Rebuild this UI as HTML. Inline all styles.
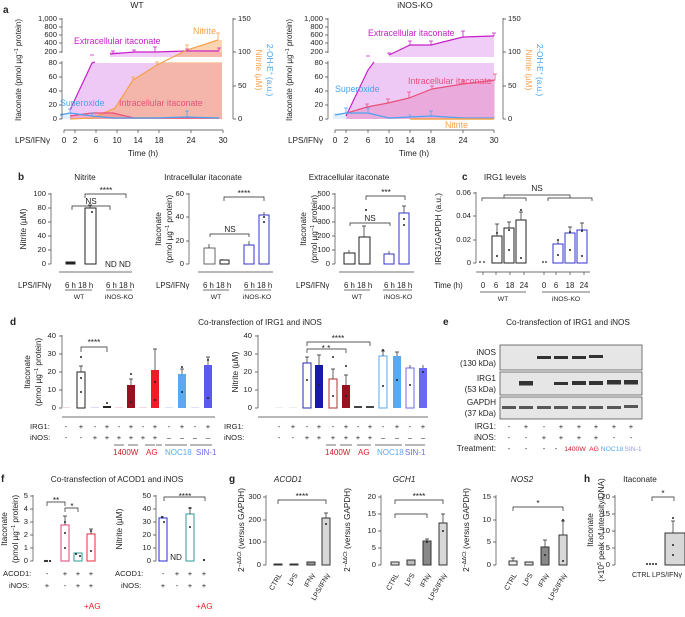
<!DOCTYPE html>
<html><head><meta charset="utf-8"><style>
html,body{margin:0;padding:0;background:#fff}
svg{display:block;font-family:"Liberation Sans",Arial,sans-serif}
</style></head><body>
<svg width="685" height="617" viewBox="0 0 685 617" xmlns="http://www.w3.org/2000/svg" font-size="8.2" fill="#222">
<!-- ================= PANEL A WT ================= -->
<text x="3" y="13" font-size="10" font-weight="bold">a</text>
<text x="137" y="8" text-anchor="middle" font-size="8.5">WT</text>
<polygon points="70,112 92,63 222,63 222,119 70,119" fill="rgba(205,90,225,0.33)"/>
<rect x="110" y="52" width="112" height="5" fill="rgba(205,90,225,0.3)"/>
<polygon points="70,119 92,118 115,108 133,80 157,65 187,50 218,40 222,40 222,119" fill="rgba(250,160,80,0.45)"/>
<polygon points="70,116 92,113 113,113 134,118 222,118 222,119 70,119" fill="rgba(240,80,110,0.25)"/>
<rect x="60" y="113" width="12" height="6" fill="rgba(120,180,250,0.2)"/>
<rect x="63" y="57" width="168" height="5" fill="#fff"/>
<polyline points="70,110 92,63 95,62" fill="none" stroke="#c81ec8" stroke-width="1.2"/>
<polyline points="110,54 135,52 155,52 187,51 219,51" fill="none" stroke="#c81ec8" stroke-width="1.2"/>
<polyline points="70,119 92,118 115,108 133,80 157,65 187,50 218,40" fill="none" stroke="#f5a04a" stroke-width="1.2"/>
<polyline points="70,116 92,113 113,113 134,118 155,118 187,118 219,118" fill="none" stroke="#e8507a" stroke-width="1.2"/>
<polyline points="60,115 70,113 92,116 113,118 134,118 155,118 187,117 219,118" fill="none" stroke="#4aa3f0" stroke-width="1.2"/>
<g stroke="#c81ec8" stroke-width="0.8"><path d="M90,55h4M113,51v3M111,51h4M134,50v2M132,50h4M155,47v5M153,47h4M187,49v2M185,49h4M219,48v3M217,48h4"/></g>
<g stroke="#f5a04a" stroke-width="0.8"><path d="M133,77v3M131,77h4M157,62v3M155,62h4M187,45v5M185,45h4M218,33v7M216,33h4"/></g>
<g stroke="#4aa3f0" stroke-width="0.8"><path d="M70,109v4M68,109h4M92,113v3M90,113h4M187,111v6M185,111h4"/></g>
<g stroke="#444" stroke-width="0.7" fill="none"><path d="M62,18V53M62,61V119M59,19h3M59,27h3M59,35h3M59,43h3M59,52h3M59,63h3M59,77h3M59,91h3M59,105h3M59,119h3"/>
<path d="M64,130H223M64,130v3M75,130v3M96,130v3M117,130v3M138,130v3M159,130v3M191,130v3M223,130v3"/>
<path d="M233,18V119M233,19h3M233,52h3M233,86h3M233,119h3"/></g>
<g text-anchor="end" font-size="7.6"><text x="57" y="21">1,000</text><text x="57" y="29">800</text><text x="57" y="37">600</text><text x="57" y="45">400</text><text x="57" y="54">200</text><text x="57" y="65">80</text><text x="57" y="79">60</text><text x="57" y="93">40</text><text x="57" y="107">20</text><text x="57" y="121">0</text></g>
<g font-size="7.6"><text x="238" y="21">150</text><text x="238" y="54">100</text><text x="238" y="88">50</text><text x="238" y="121">0</text></g>
<text transform="translate(21,70) rotate(-90)" text-anchor="middle" font-size="8">Itaconate (pmol µg<tspan dy="-3" font-size="5.5">−1</tspan><tspan dy="3"> protein)</tspan></text>
<text transform="translate(256,70) rotate(90)" text-anchor="middle" fill="#f5a04a" font-size="8.2">Nitrite (µM)</text>
<text transform="translate(267,70) rotate(90)" text-anchor="middle" fill="#4aa3f0" font-size="8.2">2-OH-E<tspan dy="-3" font-size="5.5">+</tspan><tspan dy="3"> (a.u.)</tspan></text>
<g text-anchor="middle" font-size="8.2"><text x="64" y="143">0</text><text x="75" y="143">2</text><text x="96" y="143">6</text><text x="117" y="143">10</text><text x="138" y="143">14</text><text x="159" y="143">18</text><text x="191" y="143">24</text><text x="223" y="143">30</text><text x="143" y="156">Time (h)</text></g>
<text x="15" y="143" font-size="8.2">LPS/IFNγ</text>
<text x="74" y="44" fill="#c81ec8" font-size="8.8">Extracellular itaconate</text>
<text x="193" y="34" fill="#f5a04a" font-size="8.8">Nitrite</text>
<text x="60" y="106" fill="#4aa3f0" font-size="8.8">Superoxide</text>
<text x="119" y="106" fill="#e8507a" font-size="8.8">Intracellular itaconate</text>

<!-- ================= PANEL A iNOS-KO ================= -->
<text x="415" y="8" text-anchor="middle" font-size="8.5">iNOS-KO</text>
<polygon points="346,116 368,70 374,63 494,63 494,119 346,119" fill="rgba(205,90,225,0.33)"/>
<polygon points="389,57 389,55 410,45 431,45 463,37 494,36 494,57" fill="rgba(205,90,225,0.3)"/>
<polygon points="347,113 367,107 388,103 409,98 432,89 463,84 495,80 495,119 347,119" fill="rgba(225,60,130,0.22)"/>
<rect x="333" y="113" width="14" height="6" fill="rgba(120,180,250,0.2)"/>
<polyline points="346,116 368,70 374,62" fill="none" stroke="#c81ec8" stroke-width="1.2"/>
<polyline points="389,55 410,45 431,45 463,37 494,36" fill="none" stroke="#c81ec8" stroke-width="1.2"/>
<polyline points="347,113 367,107 388,103 409,98 432,89 463,84 495,80" fill="none" stroke="#e8507a" stroke-width="1.2"/>
<polyline points="335,115 346,113 368,113 389,118 410,117 431,116 463,118 494,118" fill="none" stroke="#4aa3f0" stroke-width="1.2"/>
<line x1="410" y1="119" x2="494" y2="119" stroke="#f5a04a" stroke-width="1.5"/>
<g stroke="#c81ec8" stroke-width="0.8"><path d="M366,56h4M389,53v2M387,53h4M410,41v4M408,41h4M431,41v4M429,41h4M463,31v6M461,31h4M494,33v3M492,33h4"/></g>
<g stroke="#e8507a" stroke-width="0.8"><path d="M367,104v3M365,104h4M388,99v4M386,99h4M409,92v6M407,92h4M432,86v3M430,86h4M463,80v4M461,80h4M495,74v6M493,74h4"/></g>
<g stroke="#4aa3f0" stroke-width="0.8"><path d="M346,108v5M344,108h4M368,108v5M366,108h4M410,114v3M431,111v5M429,111h4"/></g>
<g stroke="#444" stroke-width="0.7" fill="none"><path d="M328,18V53M328,61V119M325,19h3M325,27h3M325,35h3M325,43h3M325,52h3M325,63h3M325,77h3M325,91h3M325,105h3M325,119h3"/>
<path d="M335,130H494M335,130v3M346,130v3M368,130v3M389,130v3M410,130v3M431,130v3M463,130v3M494,130v3"/>
<path d="M503,18V119M503,19h3M503,52h3M503,86h3M503,119h3"/></g>
<g text-anchor="end" font-size="7.6"><text x="323" y="21">1,000</text><text x="323" y="29">800</text><text x="323" y="37">600</text><text x="323" y="45">400</text><text x="323" y="54">200</text><text x="323" y="65">80</text><text x="323" y="79">60</text><text x="323" y="93">40</text><text x="323" y="107">20</text><text x="323" y="121">0</text></g>
<g font-size="7.6"><text x="508" y="21">150</text><text x="508" y="54">100</text><text x="508" y="88">50</text><text x="508" y="121">0</text></g>
<text transform="translate(292,70) rotate(-90)" text-anchor="middle" font-size="8">Itaconate (pmol µg<tspan dy="-3" font-size="5.5">−1</tspan><tspan dy="3"> protein)</tspan></text>
<text transform="translate(526,70) rotate(90)" text-anchor="middle" fill="#f5a04a" font-size="8.2">Nitrite (µM)</text>
<text transform="translate(537,70) rotate(90)" text-anchor="middle" fill="#4aa3f0" font-size="8.2">2-OH-E<tspan dy="-3" font-size="5.5">+</tspan><tspan dy="3"> (a.u.)</tspan></text>
<g text-anchor="middle" font-size="8.2"><text x="335" y="143">0</text><text x="346" y="143">2</text><text x="368" y="143">6</text><text x="389" y="143">10</text><text x="410" y="143">14</text><text x="431" y="143">18</text><text x="463" y="143">24</text><text x="494" y="143">30</text><text x="414" y="156">Time (h)</text></g>
<text x="288" y="143" font-size="8.2">LPS/IFNγ</text>
<text x="368" y="36" fill="#c81ec8" font-size="8.8">Extracellular itaconate</text>
<text x="408" y="84" fill="#e8507a" font-size="8.8">Intracellular itaconate</text>
<text x="335" y="92" fill="#4aa3f0" font-size="8.8">Superoxide</text>
<text x="445" y="128" fill="#f5a04a" font-size="8.8">Nitrite</text>

<!-- ================= PANEL B ================= -->
<text x="18" y="180" font-size="10" font-weight="bold">b</text>
<text x="85" y="180" text-anchor="middle">Nitrite</text>
<text x="203" y="180" text-anchor="middle">Intracellular itaconate</text>
<text x="349" y="180" text-anchor="middle">Extracellular itaconate</text>
<g stroke="#444" stroke-width="0.7" fill="none">
<path d="M51,193V264M48,194h3M48,208h3M48,222h3M48,236h3M48,250h3M48,264h3"/>
<path d="M189,193V264M186,194h3M186,217h3M186,241h3M186,264h3"/>
<path d="M335,193V264M332,194h3M332,208h3M332,222h3M332,236h3M332,250h3M332,264h3"/>
<path d="M476,192V263M473,193h3M473,216h3M473,240h3M473,263h3"/>
</g>
<g text-anchor="end" font-size="7.6"><text x="46" y="196">100</text><text x="46" y="210">80</text><text x="46" y="224">60</text><text x="46" y="238">40</text><text x="46" y="252">20</text><text x="46" y="266">0</text>
<text x="184" y="196">60</text><text x="184" y="219">40</text><text x="184" y="243">20</text><text x="184" y="266">0</text>
<text x="330" y="196">500</text><text x="330" y="210">400</text><text x="330" y="224">300</text><text x="330" y="238">200</text><text x="330" y="252">100</text><text x="330" y="266">0</text>
<text x="471" y="195">0.06</text><text x="471" y="218">0.04</text><text x="471" y="242">0.02</text><text x="471" y="265">0</text></g>
<text transform="translate(26,229) rotate(-90)" text-anchor="middle">Nitrite (µM)</text>
<text transform="translate(161,229) rotate(-90)" text-anchor="middle">Itaconate</text>
<text transform="translate(172,229) rotate(-90)" text-anchor="middle">(pmol µg<tspan dy="-3" font-size="5.5">−1</tspan><tspan dy="3"> protein)</tspan></text>
<text transform="translate(306,229) rotate(-90)" text-anchor="middle">Itaconate</text>
<text transform="translate(317,229) rotate(-90)" text-anchor="middle">(pmol µg<tspan dy="-3" font-size="5.5">−1</tspan><tspan dy="3"> protein)</tspan></text>
<text transform="translate(441,229) rotate(-90)" text-anchor="middle">IRG1/GAPDH (a.u.)</text>
<g stroke-width="1" fill="#fff">
<rect x="66" y="262" width="9" height="2" fill="#222" stroke="#222"/>
<rect x="85" y="208" width="11" height="56" stroke="#222"/>
<rect x="204" y="248" width="11" height="16" stroke="#666"/>
<rect x="220" y="260" width="9" height="4" stroke="#222"/>
<rect x="244" y="245" width="10" height="19" stroke="#3333cc"/>
<rect x="259" y="215" width="10" height="49" stroke="#3333cc"/>
<rect x="344" y="253" width="11" height="11" stroke="#222"/>
<rect x="359" y="237" width="11" height="27" stroke="#222"/>
<rect x="384" y="254" width="10" height="10" stroke="#3333cc"/>
<rect x="399" y="213" width="10" height="51" stroke="#3333cc"/>
<rect x="492" y="236" width="10" height="27" stroke="#222"/>
<rect x="504" y="228" width="10" height="35" stroke="#222"/>
<rect x="516" y="220" width="10" height="43" stroke="#222"/>
<rect x="553" y="244" width="10" height="19" stroke="#3333cc"/>
<rect x="565" y="233" width="10" height="30" stroke="#3333cc"/>
<rect x="577" y="230" width="10" height="33" stroke="#3333cc"/>
</g>
<g stroke="#222" stroke-width="0.7" fill="none"><path d="M90,208v-3M88,205h4M209,248v-4M222,260v-1M249,245v-4M264,215v-3M349,253v-3M364,237v-11M362,226h4M389,254v-3M404,213v-7M402,206h4M497,236v-12M495,224h4M509,228v-6M507,222h4M521,220v-8M519,212h4M558,244v-4M570,233v-6M568,227h4M582,230v-7M580,223h4"/>
<path d="M72,210v-4H110v4M85,198v-4H126v4M210,237v-3H249v3M224,201v-4H264v4M350,226v-3H390v3M366,200v-4H405v4M482,201v-3H526v3M548,201v-3H592v3M504,198v-3H570v3"/></g>
<g text-anchor="middle"><text x="91" y="204">NS</text><text x="106" y="193">****</text><text x="230" y="232">NS</text><text x="244" y="196">****</text><text x="370" y="221">NS</text><text x="386" y="195">***</text><text x="537" y="191">NS</text></g>
<g><text x="105" y="267">ND</text><text x="119" y="267">ND</text></g>
<g fill="#222"><circle cx="480" cy="262" r="0.9"/><circle cx="484" cy="262" r="0.9"/><circle cx="543" cy="262" r="0.9"/><circle cx="546" cy="262" r="0.9"/><circle cx="497" cy="233" r="1"/><circle cx="497" cy="256" r="1"/><circle cx="509" cy="230" r="1"/><circle cx="509" cy="250" r="1"/><circle cx="521" cy="210" r="1"/><circle cx="521" cy="258" r="1"/><circle cx="558" cy="240" r="1"/><circle cx="558" cy="255" r="1"/><circle cx="570" cy="232" r="1"/><circle cx="570" cy="250" r="1"/><circle cx="582" cy="231" r="1"/><circle cx="582" cy="256" r="1"/><circle cx="366" cy="210" r="1"/><circle cx="404" cy="219" r="1"/><circle cx="404" cy="225" r="1"/><circle cx="264" cy="217" r="1"/><circle cx="264" cy="222" r="1"/><circle cx="92" cy="212" r="1"/></g>
<g stroke="#444" stroke-width="0.7" fill="none"><path d="M59,272H132M198,272H273M339,272H414M476,272H590M483,272v3M496,272v3M510,272v3M524,272v3M544,272v3M556,272v3M570,272v3M584,272v3M65,290H92M106,290H132M203,290H229M244,290H271M344,290H370M383,290H412M480,292H526M542,292H590"/></g>
<g font-size="7.8"><text x="18" y="288">LPS/IFNγ</text><text x="156" y="288">LPS/IFNγ</text><text x="296" y="288">LPS/IFNγ</text><text x="434" y="288">Time (h)</text>
<text x="65" y="288">6 h 18 h</text><text x="106" y="288">6 h 18 h</text><text x="203" y="288">6 h 18 h</text><text x="244" y="288">6 h 18 h</text><text x="344" y="288">6 h 18 h</text><text x="384" y="288">6 h 18 h</text></g>
<g font-size="6.8" text-anchor="middle"><text x="79" y="299">WT</text><text x="119" y="299">iNOS-KO</text><text x="216" y="299">WT</text><text x="257" y="299">iNOS-KO</text><text x="357" y="299">WT</text><text x="398" y="299">iNOS-KO</text><text x="503" y="301">WT</text><text x="566" y="301">iNOS-KO</text></g>
<g font-size="7.8" text-anchor="middle"><text x="483" y="288">0</text><text x="496" y="288">6</text><text x="510" y="288">18</text><text x="524" y="288">24</text><text x="544" y="288">0</text><text x="556" y="288">6</text><text x="570" y="288">18</text><text x="584" y="288">24</text></g>
<text x="462" y="180" font-size="10" font-weight="bold">c</text>
<text x="505" y="180" text-anchor="middle">IRG1 levels</text>

<!-- ================= PANEL D ================= -->
<text x="10" y="325" font-size="10" font-weight="bold">d</text>
<text x="260" y="325" text-anchor="middle">Co-transfection of IRG1 and iNOS</text>
<g stroke="#444" stroke-width="0.7" fill="none"><path d="M62,335V408M59,336h3M59,354h3M59,372h3M59,390h3M59,408h3M258,335V408M255,336h3M255,354h3M255,372h3M255,390h3M255,408h3M62,417H215M258,417H428"/>
<path d="M114,445h10M128,445h10M145,445h10M156,445h6M165,445h22M190,445h22M326,445h10M340,445h12M357,445h14M375,445h16M380,445h22M405,445h20"/></g>
<g text-anchor="end" font-size="7.6"><text x="56" y="338">40</text><text x="56" y="356">30</text><text x="56" y="374">20</text><text x="56" y="392">10</text><text x="56" y="410">0</text><text x="252" y="338">40</text><text x="252" y="356">30</text><text x="252" y="374">20</text><text x="252" y="392">10</text><text x="252" y="410">0</text></g>
<text transform="translate(30,372) rotate(-90)" text-anchor="middle">Itaconate</text>
<text transform="translate(41,372) rotate(-90)" text-anchor="middle">(pmol µg<tspan dy="-3" font-size="5.5">−1</tspan><tspan dy="3"> protein)</tspan></text>
<text transform="translate(238,372) rotate(-90)" text-anchor="middle">Nitrite (µM)</text>
<g stroke-width="1">
<rect x="62" y="407" width="8" height="1" fill="#f0d8e8"/><rect x="77" y="372" width="8" height="36" fill="#fff" stroke="#222"/>
<rect x="91" y="407" width="8" height="1" fill="#e0d8f8"/><rect x="103" y="406" width="8" height="2" fill="#222"/>
<rect x="115" y="407" width="8" height="1" fill="#f8d8d8"/><rect x="127" y="385" width="8" height="23" fill="#9b1020"/>
<rect x="139" y="407" width="8" height="1" fill="#f8d8d8"/><rect x="151" y="370" width="8" height="38" fill="#ee1c25"/>
<rect x="165" y="407" width="8" height="1" fill="#d8e8f8"/><rect x="178" y="374" width="8" height="34" fill="#5aa8ee"/>
<rect x="191" y="407" width="8" height="1" fill="#e0e0f8"/><rect x="204" y="365" width="8" height="43" fill="#5a5aee"/>
<rect x="275" y="407" width="8" height="1" fill="#eee"/><rect x="289" y="407" width="8" height="1" fill="#eee"/>
<rect x="303" y="363" width="8" height="45" fill="#fff" stroke="#2a2ab8"/><rect x="315" y="365" width="8" height="43" fill="#1a1aa8"/>
<rect x="329" y="379" width="8" height="29" fill="#fff" stroke="#b03030"/><rect x="342" y="385" width="8" height="23" fill="#9b1020"/>
<rect x="354" y="406" width="8" height="2" fill="#444"/><rect x="366" y="406" width="8" height="2" fill="#444"/>
<rect x="379" y="356" width="8" height="52" fill="#fff" stroke="#5aa8ee"/><rect x="393" y="356" width="8" height="52" fill="#5aa8ee"/>
<rect x="406" y="368" width="8" height="40" fill="#fff" stroke="#6a6aee"/><rect x="419" y="368" width="8" height="40" fill="#6a6aee"/>
</g>
<g stroke="#222" stroke-width="0.7" fill="none"><path d="M81,372v-6M79,366h4M131,385v-6M129,379h4M155,370v-21M153,349h4M182,374v-5M180,369h4M208,365v-8M206,357h4M307,363v-6M305,357h4M319,365v-10M317,355h4M333,379v-10M331,369h4M346,385v-10M344,375h4M383,356v-5M381,351h4M397,356v-4M395,352h4M410,368v-3M423,368v-3"/>
<path d="M81,352v-5H107v5M307,346v-4H370v4M307,353v-4H346v4"/></g>
<g text-anchor="middle"><text x="94" y="345">****</text><text x="338" y="341">****</text><text x="326" y="351">* *</text></g>
<g fill="#222"><circle cx="81" cy="357" r="1"/><circle cx="81" cy="392" r="1"/><circle cx="81" cy="378" r="1"/><circle cx="107" cy="403" r="1"/><circle cx="131" cy="374" r="1"/><circle cx="131" cy="402" r="1"/><circle cx="155" cy="382" r="1"/><circle cx="155" cy="400" r="1"/><circle cx="182" cy="367" r="1"/><circle cx="182" cy="392" r="1"/><circle cx="208" cy="360" r="1"/><circle cx="208" cy="398" r="1"/><circle cx="307" cy="380" r="1"/><circle cx="319" cy="385" r="1"/><circle cx="333" cy="357" r="1"/><circle cx="333" cy="396" r="1"/><circle cx="346" cy="366" r="1"/><circle cx="346" cy="396" r="1"/><circle cx="383" cy="350" r="1"/><circle cx="383" cy="386" r="1"/><circle cx="397" cy="380" r="1"/><circle cx="410" cy="385" r="1"/><circle cx="423" cy="372" r="1"/></g>
<g font-size="7.6"><text x="30" y="429">IRG1:</text><text x="30" y="440">iNOS:</text><text x="224" y="429">IRG1:</text><text x="224" y="440">iNOS:</text></g>
<g font-size="7.6" text-anchor="middle">
<text x="66" y="429">-</text><text x="81" y="429">+</text><text x="95" y="429">-</text><text x="107" y="429">+</text><text x="119" y="429">-</text><text x="131" y="429">+</text><text x="143" y="429">-</text><text x="155" y="429">+</text><text x="169" y="429">-</text><text x="182" y="429">+</text><text x="195" y="429">-</text><text x="208" y="429">+</text>
<text x="66" y="440">-</text><text x="81" y="440">-</text><text x="95" y="440">+</text><text x="107" y="440">+</text><text x="119" y="440">+</text><text x="131" y="440">+</text><text x="143" y="440">+</text><text x="155" y="440">+</text><text x="169" y="440">–</text><text x="182" y="440">–</text><text x="195" y="440">–</text><text x="208" y="440">–</text>
<text x="279" y="429">-</text><text x="293" y="429">+</text><text x="307" y="429">-</text><text x="319" y="429">+</text><text x="333" y="429">-</text><text x="346" y="429">+</text><text x="358" y="429">-</text><text x="370" y="429">+</text><text x="383" y="429">-</text><text x="397" y="429">+</text><text x="410" y="429">-</text><text x="423" y="429">+</text>
<text x="279" y="440">-</text><text x="293" y="440">-</text><text x="307" y="440">+</text><text x="319" y="440">+</text><text x="333" y="440">+</text><text x="346" y="440">+</text><text x="358" y="440">+</text><text x="370" y="440">+</text><text x="383" y="440">–</text><text x="397" y="440">–</text><text x="410" y="440">–</text><text x="423" y="440">–</text></g>
<g font-size="8"><text x="113" y="455" fill="#c8202a">1400W</text><text x="146" y="455" fill="#ee1c25">AG</text><text x="165" y="455" fill="#5aa8ee">NOC18</text><text x="196" y="455" fill="#6a6aee">SIN-1</text>
<text x="325" y="455" fill="#c8202a">1400W</text><text x="358" y="455" fill="#ee1c25">AG</text><text x="377" y="455" fill="#5aa8ee">NOC18</text><text x="405" y="455" fill="#6a6aee">SIN-1</text></g>

<!-- ================= PANEL E ================= -->
<text x="443" y="325" font-size="10" font-weight="bold">e</text>
<text x="568" y="325" text-anchor="middle">Co-transfection of IRG1 and iNOS</text>
<g fill="#e6e6e6" stroke="#555" stroke-width="0.8"><rect x="500" y="345" width="142" height="25"/><rect x="500" y="372" width="142" height="23"/><rect x="500" y="397" width="142" height="22"/></g>
<g fill="#333"><rect x="537" y="356" width="14" height="3"/><rect x="554" y="356" width="14" height="3"/><rect x="572" y="356" width="14" height="3"/><rect x="589" y="355" width="14" height="3"/>
<rect x="519" y="381" width="14" height="4.5"/><rect x="554" y="382" width="14" height="3"/><rect x="572" y="381" width="14" height="4"/><rect x="589" y="381" width="14" height="4"/><rect x="607" y="380" width="14" height="4.5"/><rect x="624" y="380" width="14" height="4.5"/>
<rect x="502" y="406" width="14" height="3" opacity=".8"/><rect x="519" y="406" width="14" height="3" opacity=".8"/><rect x="537" y="406" width="14" height="3" opacity=".8"/><rect x="554" y="406" width="14" height="3" opacity=".8"/><rect x="572" y="406" width="14" height="3" opacity=".8"/><rect x="589" y="406" width="14" height="3" opacity=".8"/><rect x="607" y="406" width="14" height="3" opacity=".8"/><rect x="624" y="405" width="14" height="3" opacity=".8"/></g>
<g text-anchor="end"><text x="496" y="355">iNOS</text><text x="496" y="366">(130 kDa)</text><text x="496" y="381">IRG1</text><text x="496" y="392">(53 kDa)</text><text x="496" y="405">GAPDH</text><text x="496" y="416">(37 kDa)</text>
<text x="496" y="429">IRG1:</text><text x="496" y="440">iNOS:</text><text x="496" y="451">Treatment:</text></g>
<g font-size="7.6" text-anchor="middle">
<text x="509" y="429">-</text><text x="526" y="429">+</text><text x="544" y="429">-</text><text x="561" y="429">+</text><text x="579" y="429">+</text><text x="596" y="429">+</text><text x="614" y="429">+</text><text x="631" y="429">+</text>
<text x="509" y="440">-</text><text x="526" y="440">-</text><text x="544" y="440">+</text><text x="561" y="440">+</text><text x="579" y="440">+</text><text x="596" y="440">+</text><text x="614" y="440">-</text><text x="631" y="440">-</text>
<text x="509" y="451">-</text><text x="526" y="451">-</text><text x="544" y="451">-</text><text x="556" y="451">-</text></g>
<g font-size="6.8" text-anchor="middle"><text x="575" y="451" fill="#c8202a">1400W</text><text x="594" y="451" fill="#ee1c25">AG</text><text x="612" y="451" fill="#5aa8ee">NOC18</text><text x="633" y="451" fill="#9a9aee">SIN-1</text></g>

<!-- ================= PANEL F ================= -->
<text x="1" y="482" font-size="10" font-weight="bold">f</text>
<text x="117" y="482" text-anchor="middle">Co-transfection of ACOD1 and iNOS</text>
<g stroke="#444" stroke-width="0.7" fill="none"><path d="M33,495V561M30,496h3M30,509h3M30,522h3M30,535h3M30,548h3M30,561h3M156,495V561M153,496h3M153,509h3M153,522h3M153,535h3M153,548h3M153,561h3"/></g>
<g text-anchor="end" font-size="7.6"><text x="28" y="498">5</text><text x="28" y="511">4</text><text x="28" y="524">3</text><text x="28" y="537">2</text><text x="28" y="550">1</text><text x="28" y="563">0</text>
<text x="151" y="498">50</text><text x="151" y="511">40</text><text x="151" y="524">30</text><text x="151" y="537">20</text><text x="151" y="550">10</text><text x="151" y="563">0</text></g>
<text transform="translate(7,529) rotate(-90)" text-anchor="middle">Itaconate</text>
<text transform="translate(18,529) rotate(-90)" text-anchor="middle">(pmol µg<tspan dy="-3" font-size="5.5">−1</tspan><tspan dy="3"> protein)</tspan></text>
<text transform="translate(122,529) rotate(-90)" text-anchor="middle">Nitrite (µM)</text>
<g fill="#fff" stroke-width="1"><rect x="61" y="525" width="8" height="36" stroke="#e8407a"/><rect x="74" y="553" width="8" height="8" stroke="#2a9d9a"/><rect x="87" y="534" width="8" height="27" stroke="#ee2a3a"/>
<rect x="159" y="518" width="8" height="43" stroke="#2a2ad8"/><rect x="186" y="514" width="8" height="47" stroke="#2a9d9a"/></g>
<g stroke="#222" stroke-width="0.7" fill="none"><path d="M65,525v-9M63,516h4M91,534v-5M89,529h4M163,518v-2M190,514v-6M188,508h4M47,506v-4H65v4M65,512v-4H78v4M164,501v-4H205v4"/></g>
<g text-anchor="middle"><text x="56" y="503">**</text><text x="72" y="509">*</text><text x="185" y="499">****</text><text x="176" y="560">ND</text></g>
<g fill="#222"><circle cx="45" cy="561" r="1.1"/><circle cx="47" cy="561" r="1.1"/><circle cx="50" cy="561" r="1.1"/><circle cx="65" cy="522" r="1"/><circle cx="65" cy="533" r="1"/><circle cx="65" cy="548" r="1"/><circle cx="76" cy="554" r="1"/><circle cx="80" cy="556" r="1"/><circle cx="91" cy="531" r="1"/><circle cx="91" cy="551" r="1"/><circle cx="162" cy="517" r="1"/><circle cx="164" cy="522" r="1"/><circle cx="190" cy="508" r="1"/><circle cx="190" cy="527" r="1"/><circle cx="204" cy="560" r="1.1"/></g>
<g font-size="7.6"><text x="3" y="576">ACOD1:</text><text x="9" y="588">iNOS:</text><text x="115" y="576">ACOD1:</text><text x="121" y="588">iNOS:</text></g>
<g font-size="7.6" text-anchor="middle"><text x="47" y="576">-</text><text x="65" y="576">+</text><text x="78" y="576">+</text><text x="91" y="576">+</text><text x="47" y="588">+</text><text x="65" y="588">-</text><text x="78" y="588">+</text><text x="91" y="588">+</text>
<text x="163" y="576">-</text><text x="177" y="576">+</text><text x="190" y="576">+</text><text x="204" y="576">+</text><text x="163" y="588">+</text><text x="177" y="588">-</text><text x="190" y="588">+</text><text x="204" y="588">+</text></g>
<g fill="#ee1c25"><text x="84" y="609">+AG</text><text x="196" y="609">+AG</text></g>

<!-- ================= PANEL G ================= -->
<text x="229" y="482" font-size="10" font-weight="bold">g</text>
<g font-style="italic" text-anchor="middle"><text x="288" y="482">ACOD1</text><text x="404" y="482">GCH1</text><text x="522" y="482">NOS2</text></g>
<g stroke="#444" stroke-width="0.7" fill="none"><path d="M266,495V565M263,497h3M263,520h3M263,542h3M263,565h3M381,495V565M378,497h3M378,514h3M378,531h3M378,548h3M378,565h3M496,495V565M493,497h3M493,520h3M493,542h3M493,565h3M615,495V565M612,497h3M612,514h3M612,531h3M612,548h3M612,565h3"/></g>
<g text-anchor="end" font-size="7.6"><text x="261" y="499">300</text><text x="261" y="522">200</text><text x="261" y="544">100</text><text x="261" y="567">0</text>
<text x="376" y="499">20</text><text x="376" y="516">15</text><text x="376" y="533">10</text><text x="376" y="550">5</text><text x="376" y="567">0</text>
<text x="491" y="499">15</text><text x="491" y="522">10</text><text x="491" y="544">5</text><text x="491" y="567">0</text>
<text x="610" y="499">20</text><text x="610" y="516">15</text><text x="610" y="533">10</text><text x="610" y="550">5</text><text x="610" y="567">0</text></g>
<text transform="translate(244,530) rotate(-90)" text-anchor="middle">2<tspan dy="-3" font-size="5.5">−ΔΔCt</tspan><tspan dy="3"> (versus GAPDH)</tspan></text>
<text transform="translate(350,530) rotate(-90)" text-anchor="middle">2<tspan dy="-3" font-size="5.5">−ΔΔCt</tspan><tspan dy="3"> (versus GAPDH)</tspan></text>
<text transform="translate(469,530) rotate(-90)" text-anchor="middle">2<tspan dy="-3" font-size="5.5">−ΔΔCt</tspan><tspan dy="3"> (versus GAPDH)</tspan></text>
<text transform="translate(593,530) rotate(-90)" text-anchor="middle">Itaconate</text>
<text transform="translate(604,530) rotate(-90)" text-anchor="middle">(×10<tspan dy="-3" font-size="5.5">5</tspan><tspan dy="3"> peak of intensity/DNA)</tspan></text>
<g stroke="#333" stroke-width="1">
<rect x="274" y="564" width="8" height="1" fill="#eee"/><rect x="290" y="564" width="8" height="1" fill="#ddd"/><rect x="307" y="562" width="8" height="3" fill="#999"/><rect x="322" y="518" width="8" height="47" fill="#d8d8d8"/>
<rect x="391" y="562" width="8" height="3" fill="#ddd"/><rect x="407" y="560" width="8" height="5" fill="#bbb"/><rect x="423" y="541" width="8" height="24" fill="#888"/><rect x="439" y="523" width="8" height="42" fill="#d8d8d8"/>
<rect x="509" y="561" width="8" height="4" fill="#eee"/><rect x="525" y="562" width="8" height="3" fill="#ddd"/><rect x="541" y="547" width="8" height="18" fill="#888"/><rect x="559" y="535" width="8" height="30" fill="#d8d8d8"/>
<rect x="665" y="533" width="20" height="32" fill="#d8d8d8"/></g>
<g stroke="#222" stroke-width="0.7" fill="none"><path d="M326,518v-5M324,513h4M443,523v-9M441,514h4M427,541v-2M425,539h4M513,561v-3M511,558h4M545,547v-7M543,540h4M563,535v-14M561,521h4M673,533v-12M671,521h4M278,504v-4H326v4M395,504v-4H443v4M395,518v-4H427v4M513,511v-4H563v4M652,501v-4H674v4"/></g>
<g text-anchor="middle"><text x="302" y="499">****</text><text x="419" y="499">****</text><text x="538" y="506">*</text><text x="663" y="496">*</text><text x="587" y="482" font-size="10" font-weight="bold">h</text><text x="640" y="482">Itaconate</text></g>
<g fill="#222"><circle cx="326" cy="524" r="1"/><circle cx="443" cy="531" r="1"/><circle cx="427" cy="542" r="1"/><circle cx="545" cy="555" r="1"/><circle cx="563" cy="561" r="1"/><circle cx="563" cy="520" r="1"/><circle cx="647" cy="564" r="1"/><circle cx="650" cy="564" r="1"/><circle cx="653" cy="564" r="1"/><circle cx="656" cy="564" r="1"/><circle cx="673" cy="545" r="1"/><circle cx="673" cy="555" r="1"/><circle cx="673" cy="518" r="1"/></g>
<g font-size="7" text-anchor="end">
<text transform="translate(282,575) rotate(-60)">CTRL</text><text transform="translate(298,575) rotate(-60)">LPS</text><text transform="translate(315,575) rotate(-60)">IFNγ</text><text transform="translate(330,575) rotate(-60)">LPS/IFNγ</text>
<text transform="translate(399,575) rotate(-60)">CTRL</text><text transform="translate(415,575) rotate(-60)">LPS</text><text transform="translate(431,575) rotate(-60)">IFNγ</text><text transform="translate(447,575) rotate(-60)">LPS/IFNγ</text>
<text transform="translate(517,575) rotate(-60)">CTRL</text><text transform="translate(533,575) rotate(-60)">LPS</text><text transform="translate(549,575) rotate(-60)">IFNγ</text><text transform="translate(567,575) rotate(-60)">LPS/IFNγ</text></g>
<g font-size="7"><text x="632" y="577">CTRL</text><text x="652" y="577">LPS/IFNγ</text></g>
</svg>
</body></html>
